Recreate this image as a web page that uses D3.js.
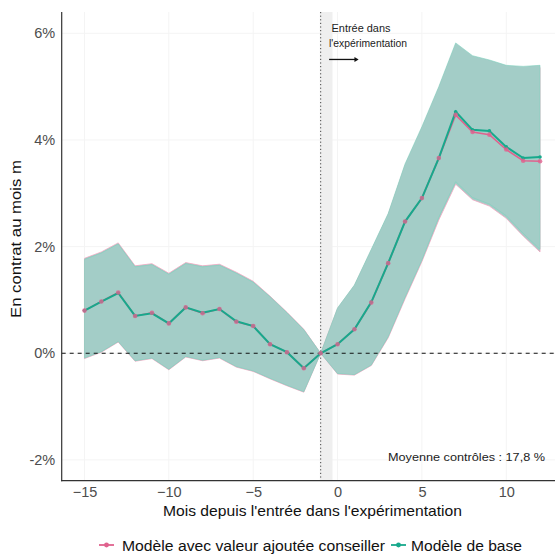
<!DOCTYPE html>
<html><head><meta charset="utf-8">
<script src="https://cdn.jsdelivr.net/npm/d3@7"></script>
<style>body{margin:0;background:#fff}svg{display:block;font-family:"Liberation Sans",Arial,sans-serif}</style>
</head><body><svg id="c" width="555" height="555"></svg>
<script>
const months = [-15,-14,-13,-12,-11,-10,-9,-8,-7,-6,-5,-4,-3,-2,-1,0,1,2,3,4,5,6,7,8,9,10,11,12];
const baseEst   = [0.80,0.97,1.13,0.70,0.75,0.56,0.86,0.76,0.83,0.60,0.51,0.17,0.02,-0.28,0,0.17,0.45,0.96,1.69,2.47,2.91,3.66,4.53,4.19,4.17,3.87,3.66,3.68];
const baseLow   = [-0.09,0.03,0.22,-0.14,-0.09,-0.30,-0.06,-0.13,-0.08,-0.25,-0.33,-0.47,-0.60,-0.72,0,-0.38,-0.40,-0.22,0.31,1.05,1.75,2.55,3.22,2.92,2.80,2.58,2.25,1.95];
const baseHigh  = [1.76,1.88,2.05,1.62,1.66,1.48,1.68,1.62,1.65,1.50,1.33,1.06,0.76,0.44,0,0.85,1.28,1.95,2.62,3.55,4.25,5.00,5.82,5.58,5.50,5.40,5.38,5.40];
const consEst   = [0.80,0.97,1.14,0.70,0.76,0.56,0.86,0.75,0.83,0.59,0.51,0.17,0.02,-0.28,0,0.17,0.45,0.95,1.69,2.47,2.91,3.66,4.47,4.15,4.10,3.82,3.61,3.60];
const consLow   = [-0.10,0.02,0.21,-0.15,-0.10,-0.31,-0.07,-0.14,-0.09,-0.26,-0.34,-0.48,-0.61,-0.73,0,-0.39,-0.41,-0.23,0.29,1.02,1.72,2.50,3.17,2.88,2.76,2.53,2.20,1.90];
const consHigh  = [1.78,1.90,2.07,1.64,1.68,1.50,1.70,1.64,1.67,1.52,1.35,1.07,0.77,0.45,0,0.84,1.27,1.93,2.60,3.52,4.22,4.97,5.78,5.55,5.46,5.36,5.33,5.36];
const xTicks = [-15,-10,-5,0,5,10];
const yTicks = [-2,0,2,4,6];
const seriesNames = ["Modèle avec valeur ajoutée conseiller","Modèle de base"];
const colPink = "#e0628e", colTeal = "#17a98c", ribbonFill = "#a3cdc7";

const svg = d3.select("#c");
const x = d3.scaleLinear().domain([-16.35,13.35]).range([61.7,562.8]);
const y = d3.scaleLinear().domain([-2.39,6.4]).range([480.7,12]);

// faint grid
svg.append("g").selectAll("line").data(yTicks).join("line")
  .attr("x1",61.7).attr("x2",555).attr("y1",d=>y(d)).attr("y2",d=>y(d))
  .attr("stroke","#f4f4f4").attr("stroke-width",1);
svg.append("g").selectAll("line").data(xTicks).join("line")
  .attr("y1",12).attr("y2",480.7).attr("x1",d=>x(d)).attr("x2",d=>x(d))
  .attr("stroke","#f4f4f4").attr("stroke-width",1);

// grey band
svg.append("rect").attr("x",x(-1.05)).attr("width",x(-0.3)-x(-1.05))
  .attr("y",12).attr("height",480.7-12).attr("fill","#efefef");

const rows = (est,lo,hi)=>months.map((m,i)=>({m,e:est[i],lo:lo[i],hi:hi[i]}));
const cons = rows(consEst,consLow,consHigh), base = rows(baseEst,baseLow,baseHigh);
const area = d3.area().x(d=>x(d.m)).y0(d=>y(d.lo)).y1(d=>y(d.hi));
const line = d3.line().x(d=>x(d.m)).y(d=>y(d.e));

svg.append("path").attr("d",area(cons)).attr("fill",ribbonFill).attr("stroke","#f2a6c0").attr("stroke-width",0.8);
svg.append("path").attr("d",area(base)).attr("fill",ribbonFill).attr("stroke","#7fd0bd").attr("stroke-width",0.6);

// zero dashed
svg.append("line").attr("x1",61.7).attr("x2",555).attr("y1",y(0)).attr("y2",y(0))
  .attr("stroke","#111").attr("stroke-width",1).attr("stroke-dasharray","4,4");
// vertical dotted
svg.append("line").attr("x1",x(-1)).attr("x2",x(-1)).attr("y1",12).attr("y2",480.7)
  .attr("stroke","#444").attr("stroke-width",1).attr("stroke-dasharray","1.2,2.4");

svg.append("path").attr("d",line(cons)).attr("fill","none").attr("stroke",colPink).attr("stroke-width",1.6);
svg.append("path").attr("d",line(base)).attr("fill","none").attr("stroke",colTeal).attr("stroke-width",2);
svg.append("g").selectAll("circle").data(base).join("circle")
  .attr("cx",d=>x(d.m)).attr("cy",d=>y(d.e)).attr("r",1.8).attr("fill",colTeal);
svg.append("g").selectAll("circle").data(cons).join("circle")
  .attr("cx",d=>x(d.m)).attr("cy",d=>y(d.e)).attr("r",2.3).attr("fill",colPink).attr("opacity",0.8);

// axes
const ax = svg.append("g").attr("transform","translate(0,480.7)")
  .call(d3.axisBottom(x).tickValues(xTicks).tickSize(0).tickPadding(6));
ax.select(".domain").remove();
ax.selectAll("text").attr("fill","#4d4d4d").attr("font-size",14.5).attr("font-family","Liberation Sans, Arial, sans-serif");
const ay = svg.append("g").attr("transform","translate(61.7,0)")
  .call(d3.axisLeft(y).tickValues(yTicks).tickFormat(d=>d+"%").tickSize(0).tickPadding(6.5));
ay.select(".domain").remove();
ay.selectAll("text").attr("fill","#4d4d4d").attr("font-size",14.5).attr("font-family","Liberation Sans, Arial, sans-serif");
svg.append("line").attr("x1",61.7).attr("x2",61.7).attr("y1",12).attr("y2",481.2).attr("stroke","#333").attr("stroke-width",1.2);
svg.append("line").attr("x1",61.1).attr("x2",555).attr("y1",480.7).attr("y2",480.7).attr("stroke","#333").attr("stroke-width",1.2);

// titles
svg.append("text").attr("x",163).attr("y",515.5)
  .attr("font-size",15).attr("fill","#111").attr("textLength",299).attr("lengthAdjust","spacingAndGlyphs")
  .text("Mois depuis l'entrée dans l'expérimentation");
svg.append("text").attr("transform","translate(21,318) rotate(-90)")
  .attr("font-size",15).attr("fill","#111").attr("textLength",158).attr("lengthAdjust","spacingAndGlyphs")
  .text("En contrat au mois m");

// annotations
svg.append("text").attr("x",331.5).attr("y",y(6.09)+3.8).attr("font-size",10.8).attr("fill","#222")
  .attr("textLength",59).attr("lengthAdjust","spacingAndGlyphs").text("Entrée dans");
svg.append("text").attr("x",329).attr("y",y(5.81)+3.8).attr("font-size",10.8).attr("fill","#222")
  .attr("textLength",78).attr("lengthAdjust","spacingAndGlyphs").text("l'expérimentation");
svg.append("line").attr("x1",x(-0.5)).attr("x2",x(1.05)).attr("y1",y(5.51)).attr("y2",y(5.51)).attr("stroke","#111").attr("stroke-width",1.3);
const ah = [[x(1.25),y(5.51)],[x(1.0),y(5.51)-2.5],[x(1.0),y(5.51)+2.5]];
svg.append("path").attr("d","M"+ah.map(p=>p.join(",")).join("L")+"Z").attr("fill","#111");
svg.append("text").attr("x",388).attr("y",y(-1.95)+4).attr("font-size",11.5).attr("fill","#222")
  .attr("textLength",157).attr("lengthAdjust","spacingAndGlyphs").text("Moyenne contrôles : 17,8 %");

// legend
const lg = svg.append("g");
const keys = [{n:seriesNames[0],c:colPink,x:99,tx:122,w:263},{n:seriesNames[1],c:colTeal,x:391,tx:411,w:111}];
keys.forEach(k=>{
  lg.append("line").attr("x1",k.x).attr("x2",k.x+15).attr("y1",545).attr("y2",545).attr("stroke",k.c).attr("stroke-width",1.8);
  lg.append("circle").attr("cx",k.x+7.5).attr("cy",545).attr("r",2.4).attr("fill",k.c);
  lg.append("text").attr("x",k.tx).attr("y",550.5).attr("font-size",15.2).attr("fill","#111")
    .attr("textLength",k.w).attr("lengthAdjust","spacingAndGlyphs").text(k.n);
});
</script></body></html>
